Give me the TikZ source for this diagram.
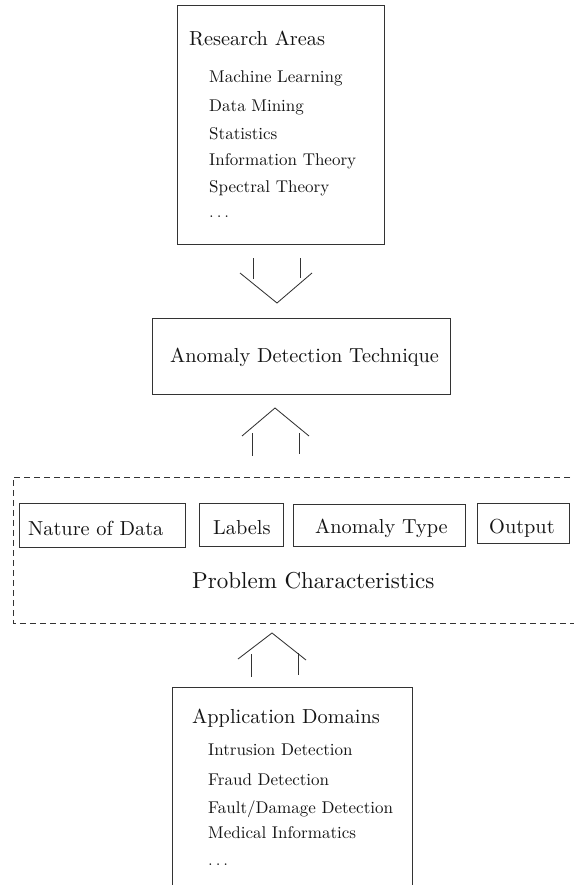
\documentclass[tikz,border=0pt]{standalone}
\usepackage{fontspec}
\setmainfont{lmroman10-regular.otf}
\begin{document}
\begin{tikzpicture}[x=1pt,y=-1pt,
  ln/.style={draw=black!80,line width=0.85pt},
  hd/.style={anchor=base west,inner sep=0pt,font=\fontsize{20.3}{24}\selectfont,text=black!92},
  it/.style={anchor=base west,inner sep=0pt,font=\fontsize{17}{20}\selectfont,text=black!92},
  bx/.style={ln,rectangle,inner sep=0pt}]
\useasboundingbox (0,0) rectangle (573,885);
% top box
\node[bx,minimum width=207pt,minimum height=239pt] (top) at (280.5,124.5) {};
\node[hd] (ra) at (189,46) {Research Areas};
\node[it] (t1) at (209,83) {Machine Learning};
\node[it] (t2) at (209,112) {Data Mining};
\node[it] (t3) at (209,140) {Statistics};
\node[it] (t4) at (209,166) {Information Theory};
\node[it] (t5) at (209,193) {Spectral Theory};
\node[it] (t6) at (209,218) {$\ldots$};
% arrow down
\coordinate (a1l) at (253,258); \coordinate (a1r) at (300,258);
\draw[ln] (a1l) -- ++(0,21);
\draw[ln] (a1r) -- ++(0,20);
\draw[ln] (240,273) -- (277,303) -- (312,273);
% middle box
\node[bx,minimum width=298pt,minimum height=76pt] (mid) at (301,356) {};
\node[hd] (adt) at (170,362) {Anomaly Detection Technique};
% arrow up
\draw[ln] (242,436) -- (275,408) -- (309,436);
\draw[ln] (252,433) -- (252,456);
\draw[ln] (299,433) -- (299,454);
% dashed box
\draw[ln,dash pattern=on 6pt off 4pt] (580,477) -- (13,477) -- (13,623) -- (580,623);
\node[bx,minimum width=166pt,minimum height=44pt] (nd) at (102,525) {};
\node[bx,minimum width=84pt,minimum height=43pt] (lb) at (241,524.5) {};
\node[bx,minimum width=172pt,minimum height=42pt] (at) at (379,525) {};
\node[bx,minimum width=92pt,minimum height=40pt] (op) at (523,523) {};
\node[hd] at (28,535) {Nature of Data};
\node[hd] at (213,534) {Labels};
\node[hd] at (315,533) {Anomaly Type};
\node[hd] at (489,533) {Output};
\node[anchor=base west,inner sep=0pt,font=\fontsize{23}{27}\selectfont,text=black!92] (pc) at (192,588) {Problem Characteristics};
% arrow up 2
\draw[ln] (238,659) -- (272,633) -- (306,660);
\draw[ln] (251,654) -- (251,677);
\draw[ln] (298,653) -- (298,675);
% bottom box
\draw[ln] (172,886) -- (172,687) -- (412,687) -- (412,886);
\node[hd] (ad) at (192,723) {Application Domains};
\node[it] (b1) at (208,755) {Intrusion Detection};
\node[it] (b2) at (208,785) {Fraud Detection};
\node[it] (b3) at (208,813) {Fault/Damage Detection};
\node[it] (b4) at (208,838) {Medical Informatics};
\node[it] (b5) at (208,865) {$\ldots$};
\end{tikzpicture}
\end{document}
